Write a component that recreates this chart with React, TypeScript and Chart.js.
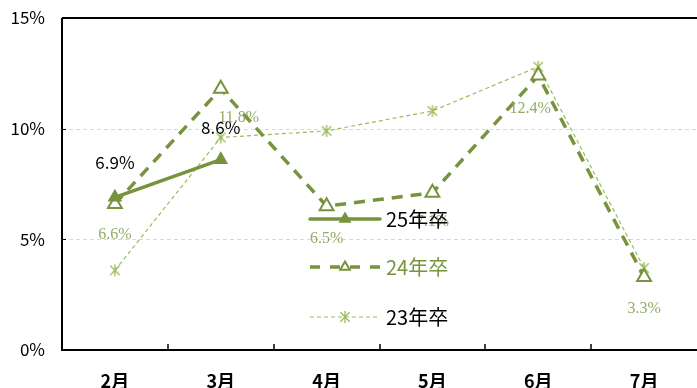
import React, { useEffect, useRef } from 'react';
import { Chart, registerables } from 'chart.js';

Chart.register(...registerables);

const months = ['2月', '3月', '4月', '5月', '6月', '7月'];
const grad25 = [6.9, 8.6, null, null, null, null];
const grad24 = [6.6, 11.8, 6.5, 7.1, 12.4, 3.3];
const grad23 = [3.6, 9.6, 9.9, 10.8, 12.8, 3.7];
const seriesNames = ['25年卒', '24年卒', '23年卒'];
const yTickValues = [0, 5, 10, 15];

const DARK = '#77933C';
const LIGHT = '#9BBB59';
const LABEL24 = '#93AB68';
const JP = '"Noto Sans CJK JP", "Noto Sans", sans-serif';

function makeAsterisk(color: string, size: number) {
  const c = document.createElement('canvas');
  c.width = size;
  c.height = size;
  const ctx = c.getContext('2d')!;
  ctx.strokeStyle = color;
  ctx.lineWidth = 1.3;
  const m = size / 2;
  const r = size / 2 - 1;
  const d = r * 0.78;
  ctx.beginPath();
  ctx.moveTo(m, m - r);
  ctx.lineTo(m, m + r);
  ctx.moveTo(m - d, m - d);
  ctx.lineTo(m + d, m + d);
  ctx.moveTo(m + d, m - d);
  ctx.lineTo(m - d, m + d);
  ctx.stroke();
  return c;
}

function triangle(ctx: CanvasRenderingContext2D, x: number, y: number, r: number, fill: string | null, stroke: string, lw: number) {
  ctx.save();
  ctx.setLineDash([]);
  ctx.beginPath();
  const h = r * 1.5;
  const w = r * 0.866 * 2;
  ctx.moveTo(x, y - h * 0.6667);
  ctx.lineTo(x + w / 2, y + h * 0.3333);
  ctx.lineTo(x - w / 2, y + h * 0.3333);
  ctx.closePath();
  if (fill) {
    ctx.fillStyle = fill;
    ctx.fill();
  }
  ctx.lineWidth = lw;
  ctx.strokeStyle = stroke;
  ctx.stroke();
  ctx.restore();
}

export default function App() {
  const ref = useRef<HTMLCanvasElement | null>(null);

  useEffect(() => {
    const canvas = ref.current!;
    const star = makeAsterisk(LIGHT, 14);

    const decor = {
      id: 'decor',
      beforeDatasetsDraw(chart: any) {
        const { ctx, chartArea: a, scales } = chart;
        const y = scales.y;
        const x = scales.x;
        ctx.save();
        ctx.strokeStyle = '#D9D9D9';
        ctx.lineWidth = 1;
        ctx.setLineDash([4, 3]);
        yTickValues.forEach((v) => {
          if (v === 0 || v === 15) return;
          const py = Math.round(y.getPixelForValue(v)) + 0.5;
          ctx.beginPath();
          ctx.moveTo(a.left, py);
          ctx.lineTo(a.right, py);
          ctx.stroke();
        });
        ctx.setLineDash([]);
        ctx.strokeStyle = '#000';
        ctx.lineWidth = 2;
        ctx.beginPath();
        ctx.moveTo(a.left, a.top);
        ctx.lineTo(a.right, a.top);
        ctx.moveTo(a.left, a.top);
        ctx.lineTo(a.left, a.bottom);
        ctx.moveTo(a.left - 1, a.bottom);
        ctx.lineTo(a.right, a.bottom);
        ctx.stroke();
        ctx.lineWidth = 1;
        yTickValues.forEach((v) => {
          const py = Math.round(y.getPixelForValue(v)) + 0.5;
          ctx.beginPath();
          ctx.moveTo(a.left, py);
          ctx.lineTo(a.left + 4, py);
          ctx.stroke();
        });
        ctx.lineWidth = 1.5;
        for (let i = 0; i < months.length - 1; i++) {
          const bx = Math.round((x.getPixelForTick(i) + x.getPixelForTick(i + 1)) / 2);
          ctx.beginPath();
          ctx.moveTo(bx, a.bottom);
          ctx.lineTo(bx, a.bottom - 6);
          ctx.stroke();
        }
        ctx.restore();
      },
      afterDatasetsDraw(chart: any) {
        const { ctx } = chart;
        ctx.save();
        ctx.textAlign = 'center';
        ctx.textBaseline = 'middle';
        const m0 = chart.getDatasetMeta(0);
        ctx.fillStyle = '#000';
        ctx.font = `17px ${JP}`;
        const off0 = [[0, -35], [0, -32]];
        grad25.forEach((v, i) => {
          if (v == null) return;
          const p = m0.data[i];
          ctx.fillText(v.toFixed(1) + '%', p.x + off0[i][0], p.y + off0[i][1]);
        });
        const m1 = chart.getDatasetMeta(1);
        ctx.fillStyle = LABEL24;
        ctx.font = '16px "Liberation Serif", "DejaVu Serif", serif';
        const off1 = [[0, 31], [18, 29], [0, 33], [0, 29], [-8, 33], [0, 32]];
        grad24.forEach((v, i) => {
          const p = m1.data[i];
          ctx.fillText(v.toFixed(1) + '%', p.x + off1[i][0], p.y + off1[i][1]);
        });
        const lx0 = 310;
        const lx1 = 380;
        const mx = 345;
        const rows = [219, 267, 317];
        ctx.strokeStyle = DARK;
        ctx.lineWidth = 3.5;
        ctx.lineCap = 'round';
        ctx.beginPath();
        ctx.moveTo(lx0, rows[0]);
        ctx.lineTo(lx1, rows[0]);
        ctx.stroke();
        triangle(ctx, mx, rows[0], 6, DARK, DARK, 1.5);
        ctx.setLineDash([10, 10]);
        ctx.lineCap = 'butt';
        ctx.beginPath();
        ctx.moveTo(lx0, rows[1]);
        ctx.lineTo(lx1, rows[1]);
        ctx.stroke();
        ctx.setLineDash([]);
        triangle(ctx, mx, rows[1], 5.5, '#fff', DARK, 2);
        ctx.strokeStyle = LIGHT;
        ctx.lineWidth = 1.2;
        ctx.setLineDash([4, 3]);
        ctx.beginPath();
        ctx.moveTo(lx0, rows[2]);
        ctx.lineTo(lx1, rows[2]);
        ctx.stroke();
        ctx.setLineDash([]);
        ctx.drawImage(star, mx - 7, rows[2] - 7);
        ctx.textAlign = 'left';
        ctx.font = `20px ${JP}`;
        const colors = ['#000', DARK, '#000'];
        seriesNames.forEach((n, i) => {
          ctx.fillStyle = colors[i];
          ctx.fillText(n, 386, rows[i]);
        });
        ctx.restore();
      },
    };

    const chart = new Chart(canvas, {
      type: 'line',
      data: {
        labels: months,
        datasets: [
          {
            label: seriesNames[0],
            data: grad25,
            borderColor: DARK,
            backgroundColor: DARK,
            borderWidth: 3.5,
            pointStyle: 'triangle',
            pointRadius: 7,
            pointBackgroundColor: DARK,
            pointBorderColor: DARK,
            pointBorderWidth: 1.5,
            tension: 0,
          },
          {
            label: seriesNames[1],
            data: grad24,
            borderColor: DARK,
            backgroundColor: '#fff',
            borderWidth: 3.5,
            borderDash: [11, 8],
            pointStyle: 'triangle',
            pointRadius: 8,
            pointBackgroundColor: '#fff',
            pointBorderColor: DARK,
            pointBorderWidth: 2,
            tension: 0,
          },
          {
            label: seriesNames[2],
            data: grad23,
            borderColor: LIGHT,
            backgroundColor: LIGHT,
            borderWidth: 1.2,
            borderDash: [4, 3],
            pointStyle: star as any,
            pointRadius: 7,
            tension: 0,
          },
        ],
      },
      options: {
        responsive: false,
        animation: false,
        layout: { padding: { top: 18, left: 0, right: 0, bottom: 0 } },
        plugins: {
          legend: { display: false },
          tooltip: { enabled: false },
        },
        scales: {
          x: {
            offset: true,
            grid: { display: false, drawTicks: true, tickLength: 20 },
            border: { display: false },
            ticks: {
              color: '#000',
              font: { family: JP, size: 18, weight: 'bold' },
              padding: 0,
              maxRotation: 0,
            },
            afterFit: (s: any) => {
              s.height = 38;
            },
          },
          y: {
            min: 0,
            max: 15,
            grid: { display: false, drawTicks: true, tickLength: 17 },
            border: { display: false },
            ticks: {
              stepSize: 5,
              color: '#000',
              font: { family: JP, size: 17 },
              padding: 0,
              callback: (v: any) => v + '%',
            },
            afterFit: (s: any) => {
              s.width = 62;
            },
          },
        },
      },
      plugins: [decor],
    });
    return () => chart.destroy();
  }, []);

  return (
    <div style={{ position: 'fixed', left: 0, top: 0, width: 697, height: 388, overflow: 'hidden', background: '#fff' }}>
      <canvas ref={ref} width={707} height={388} style={{ display: 'block' }} />
    </div>
  );
}
